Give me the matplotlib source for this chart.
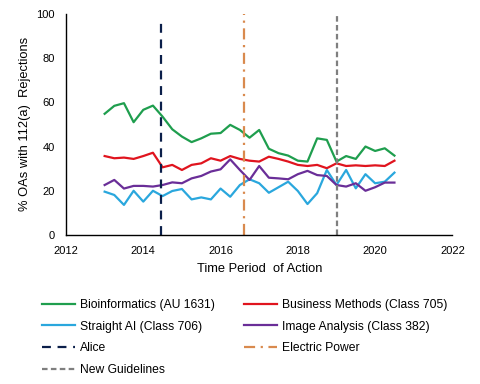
import matplotlib
matplotlib.use("Agg")
import matplotlib.pyplot as plt
import numpy as np

plt.rcParams['font.family'] = ['Liberation Sans', 'DejaVu Sans']

quarters = np.arange(2013.0, 2020.51, 0.25)

bioinformatics = [54.8, 58.4, 59.6, 51.0, 56.6, 58.5, 53.5, 47.8, 44.5, 42.0,
                  43.7, 45.8, 46.1, 49.8, 47.5, 44.0, 47.5, 39.0, 37.0, 35.9,
                  33.6, 33.2, 43.7, 43.0, 33.2, 35.7, 34.4, 40.0, 38.0, 39.2, 35.9]
business = [35.7, 34.7, 35.0, 34.4, 35.7, 37.2, 30.6, 31.7, 29.4, 31.7,
            32.4, 34.7, 33.6, 35.7, 34.4, 33.6, 33.2, 35.4, 34.4, 33.2,
            31.7, 31.2, 31.7, 30.2, 32.4, 31.2, 31.5, 31.2, 31.5, 31.2, 33.6]
straight_ai = [19.6, 18.1, 13.6, 20.0, 15.1, 20.0, 17.6, 19.9, 20.8, 16.1,
               17.0, 16.1, 21.0, 17.3, 22.6, 25.2, 23.4, 19.1, 21.6, 24.1,
               19.9, 14.0, 18.9, 29.4, 22.6, 29.4, 21.1, 27.5, 23.4, 24.1, 28.2]
image_analysis = [22.6, 24.9, 21.0, 22.2, 22.2, 21.9, 22.6, 23.8, 23.4, 25.6,
                  26.7, 28.7, 29.7, 34.2, 29.4, 24.9, 31.2, 25.9, 25.6, 25.2,
                  27.5, 29.0, 27.1, 26.7, 22.6, 21.9, 23.4, 20.0, 21.6, 23.7, 23.7]

events = ["Alice", "Electric Power", "New Guidelines"]
event_dates = [2014.47, 2016.6, 2019.01]
event_tops = [98, 100, 99.5]

fig = plt.figure(figsize=(4.8, 3.84), dpi=100)
ax = fig.add_axes([0.1375, 0.388, 0.805, 0.576])

h_bio, = ax.plot(quarters, bioinformatics, color='#1F9E4E', lw=1.6, label='Bioinformatics (AU 1631)')
h_bus, = ax.plot(quarters, business, color='#E0141E', lw=1.6, label='Business Methods (Class 705)')
h_ai, = ax.plot(quarters, straight_ai, color='#2AA7DD', lw=1.6, label='Straight AI (Class 706)')
h_img, = ax.plot(quarters, image_analysis, color='#6A2E98', lw=1.6, label='Image Analysis (Class 382)')

h_alice, = ax.plot([event_dates[0]] * 2, [0, event_tops[0]], color='#0B1F4A', lw=1.6,
                   linestyle=(0, (4, 3)), label=events[0], clip_on=False)
h_ep, = ax.plot([event_dates[1]] * 2, [0, event_tops[1]], color='#D98A4E', lw=1.6,
                linestyle=(0, (5, 2.5, 1, 2.5)), label=events[1], clip_on=False)
h_ng, = ax.plot([event_dates[2]] * 2, [0, event_tops[2]], color='#7F7F7F', lw=1.6,
                linestyle=(0, (2.5, 1.5)), label=events[2], clip_on=False)

ax.set_xlim(2012, 2022)
ax.set_ylim(0, 100)
ax.set_xticks(np.arange(2012, 2023, 2))
ax.set_yticks(np.arange(0, 101, 20))
ax.tick_params(length=0, labelsize=8, pad=8)
for s in ['top', 'right']:
    ax.spines[s].set_visible(False)
for s in ['left', 'bottom']:
    ax.spines[s].set_linewidth(1.0)
    ax.spines[s].set_color('black')

ax.set_xlabel('Time Period  of Action', fontsize=9.3, labelpad=5)
ax.set_ylabel('% OAs with 112(a)  Rejections', fontsize=9.3, labelpad=4)

handles = [h_bio, h_ai, h_alice, h_ng, h_bus, h_img, h_ep]
leg = fig.legend(handles=handles, labels=[h.get_label() for h in handles],
                 ncol=2, loc='upper left', bbox_to_anchor=(0.065, 0.25),
                 frameon=False, fontsize=8.7, handlelength=2.75, handletextpad=0.4,
                 columnspacing=2.4, labelspacing=0.8)

fig.savefig('out.png', dpi=100)
